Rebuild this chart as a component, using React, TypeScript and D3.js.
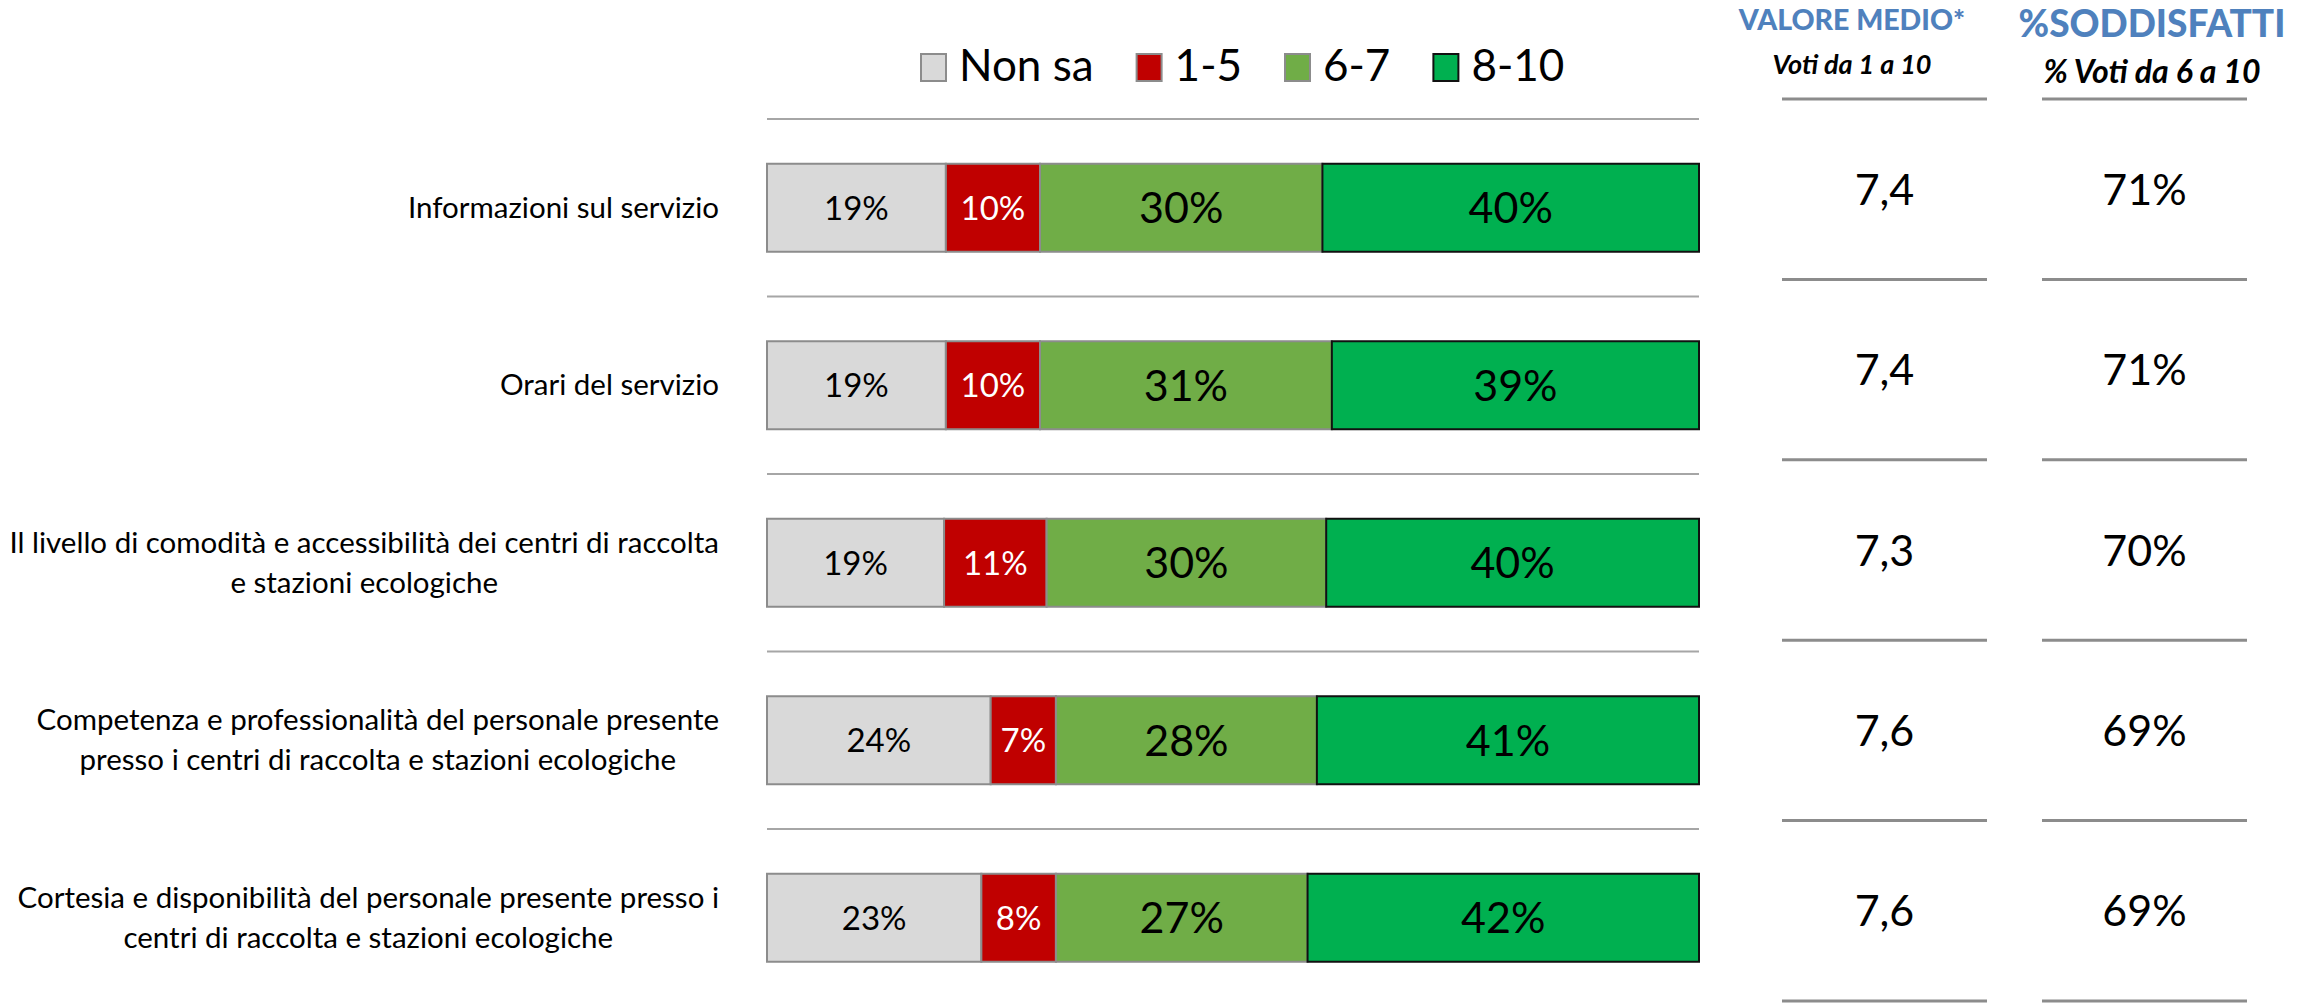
import React, { useEffect, useRef } from "react";
import * as d3 from "d3";

const categories = [
  "Informazioni sul servizio",
  "Orari del servizio",
  "Il livello di comodità e accessibilità dei centri di raccolta e stazioni ecologiche",
  "Competenza e professionalità del personale presente presso i centri di raccolta e stazioni ecologiche",
  "Cortesia e disponibilità del personale presente presso i centri di raccolta e stazioni ecologiche",
];
const categoryLines = [
  ["Informazioni sul servizio"],
  ["Orari del servizio"],
  ["Il livello di comodità e accessibilità dei centri di raccolta", "e stazioni ecologiche"],
  ["Competenza e professionalità del personale presente", "presso i centri di raccolta e stazioni ecologiche"],
  ["Cortesia e disponibilità del personale presente presso i", "centri di raccolta e stazioni ecologiche"],
];
const seriesKeys = ["Non sa", "1-5", "6-7", "8-10"];
const nonSa = [19, 19, 19, 24, 23];
const voti1_5 = [10, 10, 11, 7, 8];
const voti6_7 = [30, 31, 30, 28, 27];
const voti8_10 = [40, 39, 40, 41, 42];
const valoreMedio = ["7,4", "7,4", "7,3", "7,6", "7,6"];
const soddisfatti = ["71%", "71%", "70%", "69%", "69%"];

const W = 2309;
const H = 1004;
const FONT = "Lato, 'Open Sans', sans-serif";
const fills: Record<string, string> = { "Non sa": "#D9D9D9", "1-5": "#C00000", "6-7": "#70AD47", "8-10": "#00B050" };
const strokes: Record<string, string> = { "Non sa": "#8C8C8C", "1-5": "#8C8C8C", "6-7": "#8C8C8C", "8-10": "#111111" };
const labelColors: Record<string, string> = { "Non sa": "#000", "1-5": "#fff", "6-7": "#000", "8-10": "#000" };
const labelSizes: Record<string, number> = { "Non sa": 33, "1-5": 33, "6-7": 43, "8-10": 43 };
const HEADER_BLUE = "#4F81BD";

export default function App() {
  const ref = useRef<SVGSVGElement>(null);

  useEffect(() => {
    document.body.style.margin = "0";
    const svg = d3.select(ref.current);
    svg.selectAll("*").remove();

    const rows = categories.map((c, i) => ({
      cat: c,
      "Non sa": nonSa[i],
      "1-5": voti1_5[i],
      "6-7": voti6_7[i],
      "8-10": voti8_10[i],
    }));
    const stacked = d3.stack<any>().keys(seriesKeys).offset(d3.stackOffsetExpand)(rows);

    const x = d3.scaleLinear().domain([0, 1]).range([767, 1699]);
    const y = d3.scaleBand<string>().domain(categories).range([119, 119 + 5 * 177.5]);
    const barH = 88;
    const barY = (c: string) => (y(c) as number) + (y.step() - barH) / 2;
    const rowC = (c: string) => barY(c) + barH / 2;

    // separators above each bar
    svg.append("g")
      .selectAll("line")
      .data(categories)
      .join("line")
      .attr("x1", x(0))
      .attr("x2", x(1))
      .attr("y1", (d) => y(d) as number)
      .attr("y2", (d) => y(d) as number)
      .attr("stroke", "#A6A6A6")
      .attr("stroke-width", 2);

    // bars
    const gBars = svg.append("g");
    stacked.forEach((s) => {
      const key = s.key;
      const g = gBars.append("g");
      g.selectAll("rect")
        .data(s)
        .join("rect")
        .attr("x", (d: any) => x(d[0]))
        .attr("y", (d: any) => barY(d.data.cat))
        .attr("width", (d: any) => x(d[1]) - x(d[0]))
        .attr("height", barH)
        .attr("fill", fills[key])
        .attr("stroke", strokes[key])
        .attr("stroke-width", 2);
      g.selectAll("text")
        .data(s)
        .join("text")
        .attr("x", (d: any) => (x(d[0]) + x(d[1])) / 2)
        .attr("y", (d: any) => rowC(d.data.cat) + labelSizes[key] * 0.36)
        .attr("text-anchor", "middle")
        .attr("font-family", FONT)
        .attr("font-size", labelSizes[key])
        .attr("fill", labelColors[key])
        .text((d: any) => `${d.data[key]}%`);
    });

    // category labels
    const gLab = svg.append("g");
    const rightEdge = 719;
    categories.forEach((c, i) => {
      const lines = categoryLines[i];
      const n = lines.length;
      const texts = lines.map((ln, j) =>
        gLab.append("text")
          .attr("y", rowC(c) + (j - (n - 1) / 2) * 40 + 10)
          .attr("font-family", FONT)
          .attr("font-size", 29.5)
          .attr("fill", "#000")
          .attr("text-anchor", "middle")
          .text(ln)
      );
      const widths = texts.map((t) => (t.node() as SVGTextElement).getComputedTextLength());
      const maxW = d3.max(widths) as number;
      texts.forEach((t) => t.attr("x", rightEdge - maxW / 2));
    });

    // legend
    const gLeg = svg.append("g");
    let lx = 921;
    seriesKeys.forEach((k) => {
      gLeg.append("rect")
        .attr("x", lx)
        .attr("y", 54)
        .attr("width", 25)
        .attr("height", 27)
        .attr("fill", fills[k])
        .attr("stroke", k === "8-10" ? "#111" : "#8C8C8C")
        .attr("stroke-width", 2);
      const t = gLeg.append("text")
        .attr("x", lx + 38)
        .attr("y", 81)
        .attr("font-family", FONT)
        .attr("font-size", 44)
        .attr("fill", "#000")
        .text(k);
      lx += 38 + (t.node() as SVGTextElement).getComputedTextLength() + 43;
    });

    // right table
    const cols = [
      { head: "VALORE MEDIO*", headSize: 28.5, sub: "Voti da 1 a 10", subSize: 27, headY: 30, subY: 74, cx: 1852, lx0: 1782, lx1: 1987, vals: valoreMedio },
      { head: "%SODDISFATTI", headSize: 37, sub: "% Voti da 6 a 10", subSize: 32, headY: 37, subY: 83, cx: 2152, lx0: 2042, lx1: 2247, vals: soddisfatti },
    ];
    const ty = d3.scaleBand<string>().domain(categories).range([99, 1001]);
    const gTab = svg.append("g");
    cols.forEach((col) => {
      gTab.append("text")
        .attr("x", col.cx)
        .attr("y", col.headY)
        .attr("text-anchor", "middle")
        .attr("font-family", FONT)
        .attr("font-weight", 900)
        .attr("font-size", col.headSize)
        .attr("fill", HEADER_BLUE)
        .text(col.head);
      gTab.append("text")
        .attr("x", col.cx)
        .attr("y", col.subY)
        .attr("text-anchor", "middle")
        .attr("font-family", FONT)
        .attr("font-weight", 700)
        .attr("font-style", "italic")
        .attr("font-size", col.subSize)
        .attr("fill", "#000")
        .text(col.sub);
      const lineYs = [ty(categories[0]) as number, ...categories.map((c) => (ty(c) as number) + ty.step())];
      gTab.selectAll(null)
        .data(lineYs)
        .join("line")
        .attr("x1", col.lx0)
        .attr("x2", col.lx1)
        .attr("y1", (d) => d)
        .attr("y2", (d) => d)
        .attr("stroke", "#8C8C8C")
        .attr("stroke-width", 3);
      const vcx = (col.lx0 + col.lx1) / 2;
      gTab.selectAll(null)
        .data(categories)
        .join("text")
        .attr("x", vcx)
        .attr("y", (c) => (ty(c) as number) + ty.step() / 2 + 15.5)
        .attr("text-anchor", "middle")
        .attr("font-family", FONT)
        .attr("font-size", 43)
        .attr("fill", "#000")
        .text((_c, i) => col.vals[i]);
    });
  }, []);

  return (
    <svg
      ref={ref}
      width={W}
      height={H}
      style={{ position: "absolute", left: 0, top: 0, background: "#fff", display: "block" }}
    />
  );
}
